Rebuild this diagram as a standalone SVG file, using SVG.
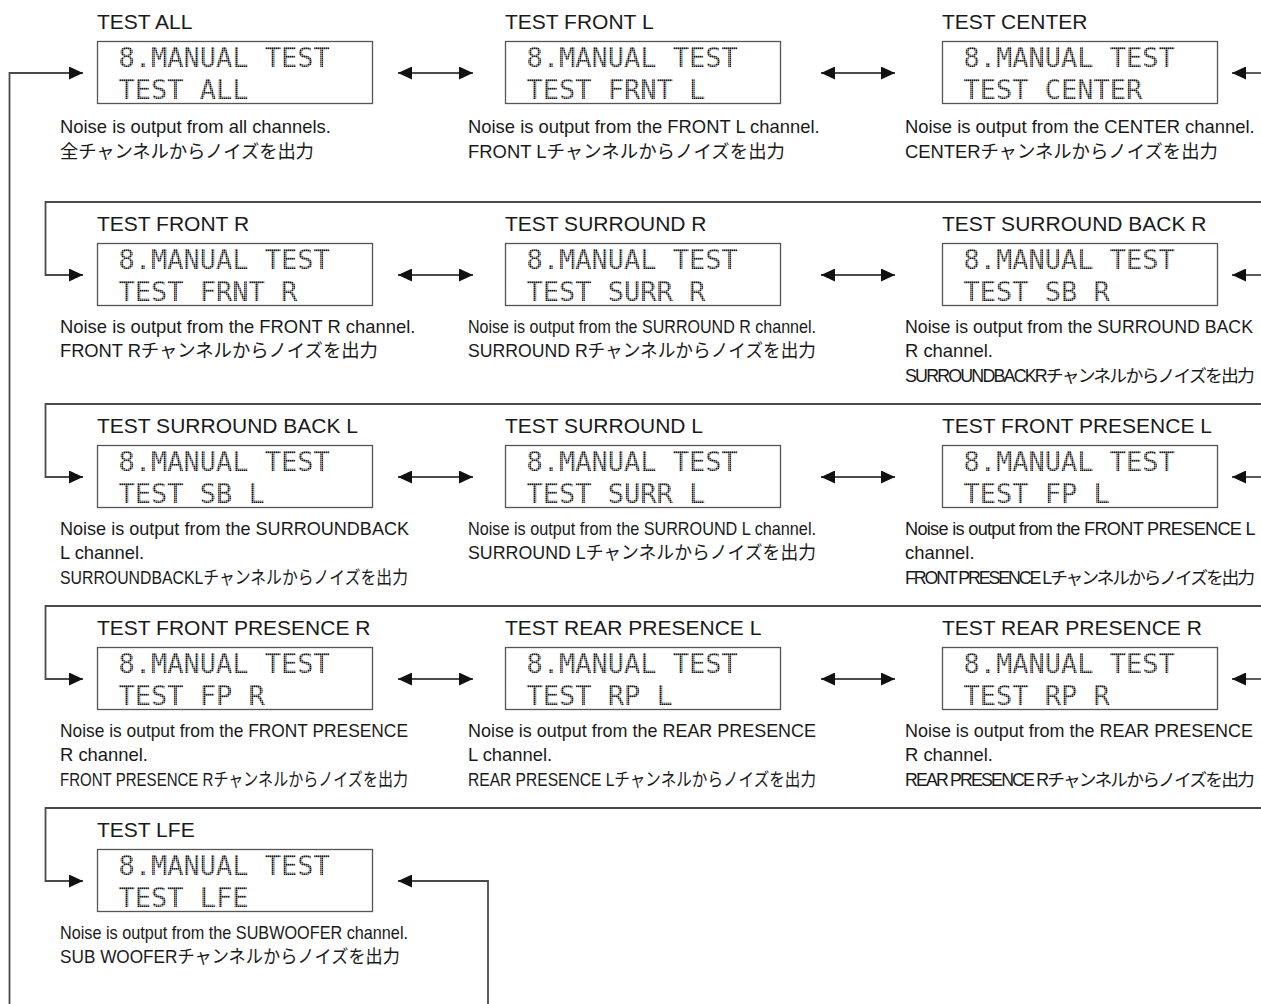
<svg xmlns="http://www.w3.org/2000/svg" width="1261" height="1004" viewBox="0 0 1261 1004">
  <style>
    .t { font-family: "Liberation Sans", Arial, sans-serif; font-size: 21px; fill: #1a1a1a; }
    .d { font-family: "Liberation Sans", "Noto Sans CJK JP", sans-serif; font-size: 18.4px; fill: #1a1a1a; }
    .lcd { font-family: "DejaVu Sans Mono", "Liberation Mono", monospace; font-size: 27px; fill: url(#dots); }
    .box { fill: #fff; stroke: #555; stroke-width: 1.3; }
    .ln { fill: none; stroke: #4a4a4a; stroke-width: 1.8; }
    .dbl { fill: none; stroke: #111; stroke-width: 1.3; }
  </style>
  <defs>
    <!-- dot-matrix fill for the LCD characters -->
    <pattern id="dots" width="2" height="2" patternUnits="userSpaceOnUse">
      <rect width="1.6" height="1.6" fill="#161616"/>
    </pattern>
    <marker id="ah" viewBox="0 0 14 13" refX="14" refY="6.5" markerWidth="14" markerHeight="13" markerUnits="userSpaceOnUse" orient="auto-start-reverse">
      <path d="M0,0 L14,6.5 L0,13 Z" fill="#111"/>
    </marker>
  </defs>
  <rect width="1261" height="1004" fill="#fff"/>

  <!-- connectors -->
  <g id="connectors">
    <path class="ln" d="M9.5,1004 V73 H83" marker-end="url(#ah)"/>
    <path class="ln" d="M488,1004 V881 H398" marker-end="url(#ah)"/>

    <path class="dbl" d="M398,73 H473" marker-start="url(#ah)" marker-end="url(#ah)"/>
    <path class="dbl" d="M821,73 H895" marker-start="url(#ah)" marker-end="url(#ah)"/>
    <path class="ln" d="M1261,73 H1232" marker-end="url(#ah)"/>
    <path class="ln" d="M1261,202 H45.5 V275 H83" marker-end="url(#ah)"/>

    <path class="dbl" d="M398,275 H473" marker-start="url(#ah)" marker-end="url(#ah)"/>
    <path class="dbl" d="M821,275 H895" marker-start="url(#ah)" marker-end="url(#ah)"/>
    <path class="ln" d="M1261,275 H1232" marker-end="url(#ah)"/>
    <path class="ln" d="M1261,404 H45.5 V477 H83" marker-end="url(#ah)"/>

    <path class="dbl" d="M398,477 H473" marker-start="url(#ah)" marker-end="url(#ah)"/>
    <path class="dbl" d="M821,477 H895" marker-start="url(#ah)" marker-end="url(#ah)"/>
    <path class="ln" d="M1261,477 H1232" marker-end="url(#ah)"/>
    <path class="ln" d="M1261,606 H45.5 V679 H83" marker-end="url(#ah)"/>

    <path class="dbl" d="M398,679 H473" marker-start="url(#ah)" marker-end="url(#ah)"/>
    <path class="dbl" d="M821,679 H895" marker-start="url(#ah)" marker-end="url(#ah)"/>
    <path class="ln" d="M1261,679 H1232" marker-end="url(#ah)"/>
    <path class="ln" d="M1261,808 H45.5 V881 H83" marker-end="url(#ah)"/>
  </g>

  <!-- row 1 -->
  <g id="test-all">
    <text class="t" x="97" y="29">TEST ALL</text>
    <rect class="box" x="97.5" y="41.5" width="275" height="62"/>
    <text class="lcd" x="118.5" y="67">8.MANUAL TEST</text>
    <text class="lcd" x="118.5" y="99">TEST ALL</text>
    <text class="d" x="60" y="133">Noise is output from all channels.</text>
    <text class="d" x="60" y="157.5" textLength="254">全チャンネルからノイズを出力</text>
  </g>
  <g id="test-front-l">
    <text class="t" x="505" y="29">TEST FRONT L</text>
    <rect class="box" x="505.5" y="41.5" width="275" height="62"/>
    <text class="lcd" x="526.5" y="67">8.MANUAL TEST</text>
    <text class="lcd" x="526.5" y="99">TEST FRNT L</text>
    <text class="d" x="468" y="133">Noise is output from the FRONT L channel.</text>
    <text class="d" x="468" y="157.5" textLength="317">FRONT Lチャンネルからノイズを出力</text>
  </g>
  <g id="test-center">
    <text class="t" x="942" y="29">TEST CENTER</text>
    <rect class="box" x="942.5" y="41.5" width="275" height="62"/>
    <text class="lcd" x="963.5" y="67">8.MANUAL TEST</text>
    <text class="lcd" x="963.5" y="99">TEST CENTER</text>
    <text class="d" x="905" y="133">Noise is output from the CENTER channel.</text>
    <text class="d" x="905" y="157.5" textLength="313">CENTERチャンネルからノイズを出力</text>
  </g>

  <!-- row 2 -->
  <g id="test-front-r">
    <text class="t" x="97" y="231">TEST FRONT R</text>
    <rect class="box" x="97.5" y="243.5" width="275" height="62"/>
    <text class="lcd" x="118.5" y="269">8.MANUAL TEST</text>
    <text class="lcd" x="118.5" y="301">TEST FRNT R</text>
    <text class="d" x="60" y="332.5">Noise is output from the FRONT R channel.</text>
    <text class="d" x="60" y="357" textLength="318">FRONT Rチャンネルからノイズを出力</text>
  </g>
  <g id="test-surround-r">
    <text class="t" x="505" y="231">TEST SURROUND R</text>
    <rect class="box" x="505.5" y="243.5" width="275" height="62"/>
    <text class="lcd" x="526.5" y="269">8.MANUAL TEST</text>
    <text class="lcd" x="526.5" y="301">TEST SURR R</text>
    <text class="d" x="468" y="332.5" textLength="348" lengthAdjust="spacingAndGlyphs">Noise is output from the SURROUND R channel.</text>
    <text class="d" x="468" y="357" textLength="348" lengthAdjust="spacingAndGlyphs">SURROUND Rチャンネルからノイズを出力</text>
  </g>
  <g id="test-surround-back-r">
    <text class="t" x="942" y="231">TEST SURROUND BACK R</text>
    <rect class="box" x="942.5" y="243.5" width="275" height="62"/>
    <text class="lcd" x="963.5" y="269">8.MANUAL TEST</text>
    <text class="lcd" x="963.5" y="301">TEST SB R</text>
    <text class="d" x="905" y="332.5" style="font-size:18px" textLength="348" lengthAdjust="spacingAndGlyphs">Noise is output from the SURROUND BACK</text>
    <text class="d" x="905" y="357">R channel.</text>
    <text class="d" x="905" y="381.5" style="font-size:17.6px;letter-spacing:-1.8px" textLength="348" lengthAdjust="spacingAndGlyphs">SURROUNDBACKRチャンネルからノイズを出力</text>
  </g>

  <!-- row 3 -->
  <g id="test-surround-back-l">
    <text class="t" x="97" y="433">TEST SURROUND BACK L</text>
    <rect class="box" x="97.5" y="445.5" width="275" height="62"/>
    <text class="lcd" x="118.5" y="471">8.MANUAL TEST</text>
    <text class="lcd" x="118.5" y="503">TEST SB L</text>
    <text class="d" x="60" y="534.5" textLength="349" lengthAdjust="spacingAndGlyphs">Noise is output from the SURROUNDBACK</text>
    <text class="d" x="60" y="559">L channel.</text>
    <text class="d" x="60" y="583.5" textLength="348" lengthAdjust="spacingAndGlyphs">SURROUNDBACKLチャンネルからノイズを出力</text>
  </g>
  <g id="test-surround-l">
    <text class="t" x="505" y="433">TEST SURROUND L</text>
    <rect class="box" x="505.5" y="445.5" width="275" height="62"/>
    <text class="lcd" x="526.5" y="471">8.MANUAL TEST</text>
    <text class="lcd" x="526.5" y="503">TEST SURR L</text>
    <text class="d" x="468" y="534.5" textLength="348" lengthAdjust="spacingAndGlyphs">Noise is output from the SURROUND L channel.</text>
    <text class="d" x="468" y="559" textLength="348" lengthAdjust="spacingAndGlyphs">SURROUND Lチャンネルからノイズを出力</text>
  </g>
  <g id="test-front-presence-l">
    <text class="t" x="942" y="433">TEST FRONT PRESENCE L</text>
    <rect class="box" x="942.5" y="445.5" width="275" height="62"/>
    <text class="lcd" x="963.5" y="471">8.MANUAL TEST</text>
    <text class="lcd" x="963.5" y="503">TEST FP L</text>
    <text class="d" x="905" y="534.5" style="font-size:18px;letter-spacing:-0.7px" textLength="350" lengthAdjust="spacingAndGlyphs">Noise is output from the FRONT PRESENCE L</text>
    <text class="d" x="905" y="559">channel.</text>
    <text class="d" x="905" y="583.5" style="font-size:17.6px;letter-spacing:-2.1px" textLength="348" lengthAdjust="spacingAndGlyphs">FRONT PRESENCE Lチャンネルからノイズを出力</text>
  </g>

  <!-- row 4 -->
  <g id="test-front-presence-r">
    <text class="t" x="97" y="635">TEST FRONT PRESENCE R</text>
    <rect class="box" x="97.5" y="647.5" width="275" height="62"/>
    <text class="lcd" x="118.5" y="673">8.MANUAL TEST</text>
    <text class="lcd" x="118.5" y="705">TEST FP R</text>
    <text class="d" x="60" y="736.5" textLength="348" lengthAdjust="spacingAndGlyphs">Noise is output from the FRONT PRESENCE</text>
    <text class="d" x="60" y="761">R channel.</text>
    <text class="d" x="60" y="785.5" textLength="348" lengthAdjust="spacingAndGlyphs">FRONT PRESENCE Rチャンネルからノイズを出力</text>
  </g>
  <g id="test-rear-presence-l">
    <text class="t" x="505" y="635">TEST REAR PRESENCE L</text>
    <rect class="box" x="505.5" y="647.5" width="275" height="62"/>
    <text class="lcd" x="526.5" y="673">8.MANUAL TEST</text>
    <text class="lcd" x="526.5" y="705">TEST RP L</text>
    <text class="d" x="468" y="736.5" textLength="348" lengthAdjust="spacingAndGlyphs">Noise is output from the REAR PRESENCE</text>
    <text class="d" x="468" y="761">L channel.</text>
    <text class="d" x="468" y="785.5" textLength="348" lengthAdjust="spacingAndGlyphs">REAR PRESENCE Lチャンネルからノイズを出力</text>
  </g>
  <g id="test-rear-presence-r">
    <text class="t" x="942" y="635">TEST REAR PRESENCE R</text>
    <rect class="box" x="942.5" y="647.5" width="275" height="62"/>
    <text class="lcd" x="963.5" y="673">8.MANUAL TEST</text>
    <text class="lcd" x="963.5" y="705">TEST RP R</text>
    <text class="d" x="905" y="736.5" style="font-size:18px" textLength="348" lengthAdjust="spacingAndGlyphs">Noise is output from the REAR PRESENCE</text>
    <text class="d" x="905" y="761">R channel.</text>
    <text class="d" x="905" y="785.5" style="font-size:17.6px;letter-spacing:-1.8px" textLength="348" lengthAdjust="spacingAndGlyphs">REAR PRESENCE Rチャンネルからノイズを出力</text>
  </g>

  <!-- row 5 -->
  <g id="test-lfe">
    <text class="t" x="97" y="837">TEST LFE</text>
    <rect class="box" x="97.5" y="849.5" width="275" height="62"/>
    <text class="lcd" x="118.5" y="875">8.MANUAL TEST</text>
    <text class="lcd" x="118.5" y="907">TEST LFE</text>
    <text class="d" x="60" y="938.5" textLength="348" lengthAdjust="spacingAndGlyphs">Noise is output from the SUBWOOFER channel.</text>
    <text class="d" x="60" y="963" textLength="340" lengthAdjust="spacingAndGlyphs">SUB WOOFERチャンネルからノイズを出力</text>
  </g>
</svg>
